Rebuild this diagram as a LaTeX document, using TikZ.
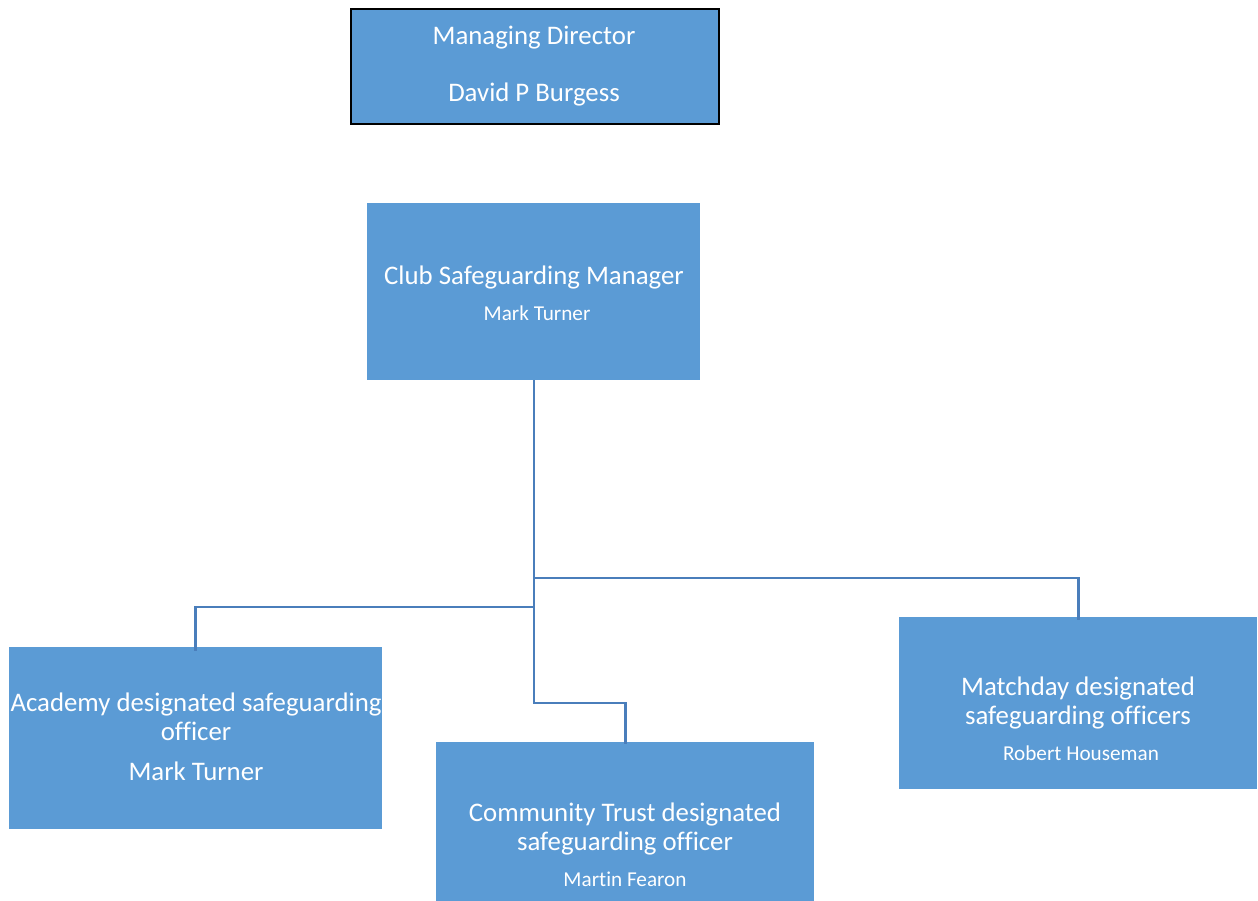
\documentclass[tikz,border=0pt]{standalone}
\usepackage{fontspec}
\setmainfont{Carlito}[Ligatures=NoCommon]
\definecolor{boxfill}{HTML}{5B9BD5}
\definecolor{linkcol}{HTML}{4A7EBB}
\begin{document}
\begin{tikzpicture}[x=1pt,y=-1pt,
  box/.style={rectangle, fill=boxfill, draw=none, anchor=north west, inner sep=0pt},
  topbox/.style={box, draw=black, line width=2pt},
  big/.style={text=white, font=\fontsize{26.8}{32}\selectfont, anchor=base, inner sep=0pt},
  small/.style={text=white, font=\fontsize{21.2}{25}\selectfont, anchor=base, inner sep=0pt},
  link/.style={draw=linkcol, line width=2.8pt}]
\useasboundingbox (0,0) rectangle (1258,901);
% boxes
\node[topbox, minimum width=368pt, minimum height=115pt] (md) at (350,8) {};
\node[box, minimum width=333pt, minimum height=177pt] (csm) at (367,203) {};
\node[box, minimum width=373pt, minimum height=182pt] (acad) at (9,647) {};
\node[box, minimum width=378pt, minimum height=160pt] (comm) at (436,742) {};
\node[box, minimum width=358pt, minimum height=172pt] (match) at (899,617) {};
% texts
\node[big] (md1) at (534,45) {Managing Director};
\node[big] (md2) at (534,102) {David P Burgess};
\node[big] (csm1) at (534,284) {Club Safeguarding Manager};
\node[small] (csm2) at (537,320) {Mark Turner};
\node[big] (ac1) at (196,711) {Academy designated safeguarding};
\node[big] (ac2) at (196,740) {officer};
\node[big] (ac3) at (196,780) {Mark Turner};
\node[big] (co1) at (625,821) {Community Trust designated};
\node[big] (co2) at (625,850) {safeguarding officer};
\node[small] (co3) at (625,886) {Martin Fearon};
\node[big] (ma1) at (1078,695) {Matchday designated};
\node[big] (ma2) at (1078,724) {safeguarding officers};
\node[small] (ma3) at (1081,760) {Robert Houseman};
% connectors
\coordinate (hub) at (534,380);
\coordinate (jA) at (534,607);
\coordinate (jM) at (534,578);
\coordinate (jC) at (534,703);
\draw[link] (csm.south -| hub) -- (jC) -- (jC -| comm.north) -- ([yshift=-2pt]comm.north);
\draw[link] (jA) -- (jA -| acad.north) -- ([yshift=-4pt]acad.north);
\draw[link] (jM) -- (jM -| match.north) -- ([yshift=-3pt]match.north);
\end{tikzpicture}
\end{document}
